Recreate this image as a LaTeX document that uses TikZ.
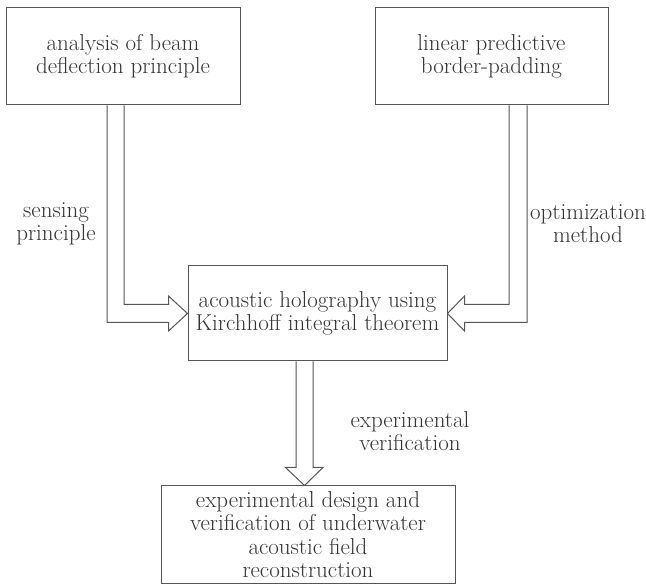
\documentclass[tikz,border=0pt]{standalone}
\usepackage{tikz}
\usetikzlibrary{calc}
\definecolor{linegray}{HTML}{555555}
\definecolor{textgray}{HTML}{333333}

\begin{document}
\begin{tikzpicture}[x=1pt,y=-1pt,
    font=\fontsize{23}{23.3}\selectfont,text=textgray,
    box/.style={draw=linegray,line width=1pt,align=center,inner sep=0pt},
    hollow/.style={draw=linegray,line width=1pt,line join=miter},
    note/.style={align=center,inner sep=0pt}]
  \useasboundingbox (0,0) rectangle (646,585);
  % Boxes
  \node[box,minimum width=234pt,minimum height=97pt] (ana) at (123,56.5)
    {analysis of beam\\deflection principle};
  \node[box,minimum width=233pt,minimum height=97pt] (pad) at (491.5,56.5)
    {linear predictive\\border-padding};
  \node[box,minimum width=259pt,minimum height=95pt] (holo) at (317.5,313.5)
    {acoustic holography using\\Kirchhoff integral theorem};
  \node[box,minimum width=294pt,minimum height=97pt] (recon) at (308,534.5)
    {experimental design and\\verification of underwater\\acoustic field\\reconstruction};
  % Hollow arrows
  \draw[hollow] ($(ana.south)+(-16,0)$) |- ($(holo.west)+(-19,9)$) -- ++(0,8.5)
    -- (holo.west) -- ($(holo.west)+(-19,-17.5)$) -- ++(0,8.5) -| ($(ana.south)+(1,0)$);
  \draw[hollow] ($(pad.south)+(35.5,0)$) |- ($(holo.east)+(17,9)$) -- ++(0,8.5)
    -- (holo.east) -- ($(holo.east)+(17,-17.5)$) -- ++(0,8.5) -| ($(pad.south)+(17.5,0)$);
  \draw[hollow] ($(holo.south)+(-21.5,0)$) -- ($(recon.north)+(-12,-18)$) -- ++(-10.5,0)
    -- ($(recon.north)+(-3.5,0)$) -- ($(recon.north)+(15,-18)$) -- ++(-10,0)
    -- ($(holo.south)+(-4.5,0)$);
  % Annotations
  \node[note] (sense) at (56,224) {sensing\\principle};
  \node[note] (optim) at (588,224) {optimization\\method};
  \node[note] (verif) at (410,431) {experimental\\verification};
\end{tikzpicture}
\end{document}
